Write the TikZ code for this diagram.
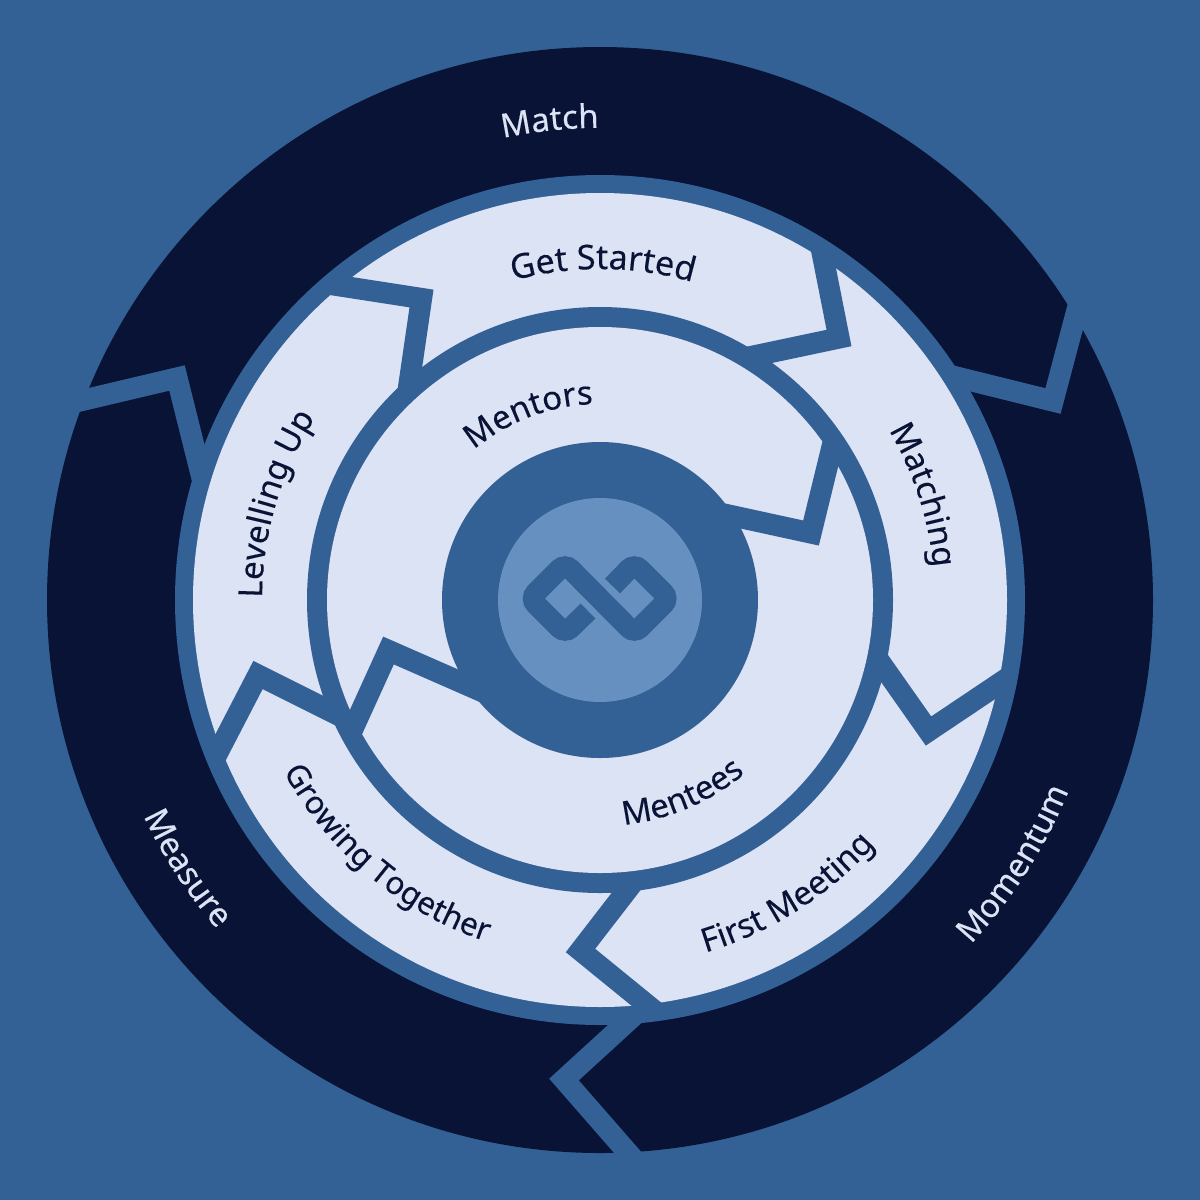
\documentclass[tikz,border=0pt]{standalone}
\usepackage{fontspec}
\setmainfont[FakeBold=0.25]{Noto Sans}
\usetikzlibrary{decorations.text}
\definecolor{sea}{HTML}{336196}
\definecolor{ink}{HTML}{081336}
\definecolor{pale}{HTML}{DCE3F4}
\definecolor{sky}{HTML}{6690C0}
\newcommand{\inklabel}{\color{ink}\fontsize{16.5}{20}\selectfont}
\newcommand{\palelabel}{\color{pale}\fontsize{16.5}{20}\selectfont}
\tikzset{
  disc/.style={circle,inner sep=0pt,outer sep=0pt,draw=none},
  cutline/.style={draw=sea,line width=10.6pt,miter limit=10},
  ringtext/.style={decorate,decoration={text along path,text align=center,text={#1}}}
}
\begin{document}
\begin{tikzpicture}[x=0.5pt,y=-0.5pt]
  \useasboundingbox (0,0) rectangle (1200,1200);
  \fill[sea] (0,0) rectangle (1200,1200);
  % outer ring
  \node[disc,fill=ink,minimum size=553pt] at (600,600) (outerring) {};
  \draw[cutline] (940,373) -- (1053,401) -- (1085,280);
  \draw[cutline] (50,408) -- (177,378) -- (205,490);
  \draw[cutline] (640,1010) -- (564,1079.5) -- (650,1178);
  % middle ring
  \node[disc,fill=sea,minimum size=425pt] at (600,600) (middleedge) {};
  \node[disc,fill=pale,minimum size=407pt] at (600,600) (middlering) {};
  \draw[cutline] (821,247) -- (839,338) -- (730,361);
  \draw[cutline] (331,284.5) -- (421.5,298.5) -- (407,398);
  \draw[cutline] (215,758) -- (258,675) -- (350,721);
  \draw[cutline] (656,1012) -- (580.5,950.5) -- (645,867);
  \draw[cutline] (1009,677) -- (928.5,731) -- (868,645);
  % inner ring
  \node[disc,fill=sea,minimum size=293pt] at (600,600) (inneredge) {};
  \node[disc,fill=pale,minimum size=273pt] at (600,600) (innerring) {};
  \draw[cutline] (833,443) -- (811,533) -- (710,511);
  \draw[cutline] (351,733) -- (388.5,650.5) -- (490,695);
  % centre
  \node[disc,fill=sea,minimum size=158pt] at (600,600) (core) {};
  \node[disc,fill=sky,minimum size=102pt] at (600,600) (badge) {};
  \draw[sea,line width=10.5pt,rounded corners=4pt] (588,611) -- (565,633.5) -- (530,598.5) -- (565,563.5)
    -- (634.3,633.5) -- (669.3,598.5) -- (634.3,563.5) -- (612.5,586);
  % labels
  \path[ringtext={|\palelabel|Match}] ([shift={(600,600)}]204:472) arc[start angle=204,end angle=324,radius=472];
  \path[ringtext={|\palelabel|Momentum}] ([shift={(600,600)}]82:506) arc[start angle=82,end angle=-17,radius=506];
  \path[ringtext={|\palelabel|Measure}] ([shift={(600,600)}]197:505) arc[start angle=197,end angle=97,radius=505];
  \path[ringtext={|\inklabel\fontsize{17}{20}\selectfont|Get Started}] ([shift={(600,600)}]210.5:331) arc[start angle=210.5,end angle=330.5,radius=331];
  \path[ringtext={|\inklabel|Matching}] ([shift={(600,600)}]292:335) arc[start angle=292,end angle=392,radius=335];
  \path[ringtext={|\inklabel|First Meeting}] ([shift={(600,600)}]107.5:368) arc[start angle=107.5,end angle=7.5,radius=368];
  \path[ringtext={|\inklabel\fontsize{15.8}{20}\selectfont|Growing Together}] ([shift={(600,600)}]180:360) arc[start angle=180,end angle=80,radius=360];
  \path[ringtext={|\inklabel|Levelling Up}] ([shift={(600,600)}]146.5:338) arc[start angle=146.5,end angle=246.5,radius=338];
  \path[ringtext={|\inklabel|Mentors}] ([shift={(600,600)}]189:196) arc[start angle=189,end angle=309,radius=196];
  \path[ringtext={|\inklabel|Mentees}] ([shift={(600,600)}]127:226) arc[start angle=127,end angle=7,radius=226];
\end{tikzpicture}
\end{document}
